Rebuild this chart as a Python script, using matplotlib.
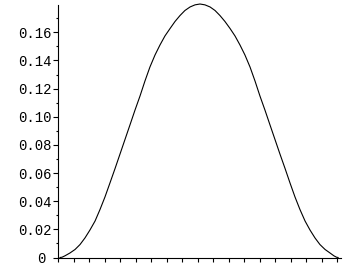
import matplotlib.pyplot as plt
from matplotlib.ticker import MultipleLocator
from matplotlib.transforms import ScaledTranslation

# points (x in tick units, one tick = 1)
xs = [0.13, 0.26, 0.45, 0.77, 1.10, 1.42, 1.74, 2.06, 2.39, 2.71, 3.03, 3.35,
      3.68, 4.00, 4.32, 4.64, 4.97, 5.29, 5.61, 5.93, 6.26, 6.58, 6.90, 7.23,
      7.55, 7.87, 8.19, 8.52, 8.84, 9.16,
      9.48, 9.81, 10.13, 10.45, 10.77, 11.10, 11.42, 11.74, 12.06, 12.39,
      12.71, 13.03, 13.35, 13.68, 14.00, 14.32, 14.65, 14.97, 15.29, 15.61,
      15.94, 16.26, 16.58, 16.90, 17.23, 17.55, 17.80, 17.97, 18.07]
ys = [0.0, 0.0002, 0.0012, 0.0032, 0.0057, 0.0092, 0.0139, 0.0195, 0.0259,
      0.0341, 0.0430, 0.0529, 0.0632, 0.0735, 0.0838, 0.0941, 0.1048, 0.1147,
      0.1254, 0.1353, 0.1439, 0.1510, 0.1574, 0.1627, 0.1677, 0.1719, 0.1755,
      0.1780, 0.1795, 0.1801,
      0.1795, 0.1780, 0.1755, 0.1719, 0.1677, 0.1627, 0.1574, 0.1510, 0.1439,
      0.1353, 0.1254, 0.1147, 0.1048, 0.0941, 0.0838, 0.0735, 0.0632, 0.0529,
      0.0430, 0.0341, 0.0259, 0.0195, 0.0139, 0.0092, 0.0057, 0.0032, 0.0012,
      0.0002, 0.0]

ytick_vals = [0, 0.02, 0.04, 0.06, 0.08, 0.10, 0.12, 0.14, 0.16]
ytick_labels = ['0', '0.02', '0.04', '0.06', '0.08', '0.10', '0.12', '0.14', '0.16']

fig = plt.figure(figsize=(3.55, 2.65), dpi=100)
W, H = 355, 265
ax = fig.add_axes([58 / W, (H - 257.5) / H, (341 - 58) / W, (257.5 - 5) / H])

ax.plot(xs, ys, color='black', linewidth=0.8, clip_on=False)

ax.set_xlim(0, (341 - 58) / 15.5)
ax.set_ylim(0, 252.5 / 1407.5)

for s in ['top', 'right']:
    ax.spines[s].set_visible(False)
for s in ['left', 'bottom']:
    ax.spines[s].set_linewidth(0.8)

ax.xaxis.set_major_locator(MultipleLocator(1))
ax.tick_params(axis='x', direction='out', length=3, width=0.8, labelbottom=False)

ax.set_yticks(ytick_vals)
ax.set_yticklabels(ytick_labels, family='Liberation Mono', fontsize=10)
ax.yaxis.set_minor_locator(MultipleLocator(0.01))
ax.tick_params(axis='y', which='major', direction='out', length=3.6, width=0.8, pad=0.7)
ax.tick_params(axis='y', which='minor', direction='out', length=1.5, width=0.8)

# Maple puts the "0" a bit further left
lbl0 = ax.get_yticklabels()[0]
lbl0.set_transform(lbl0.get_transform() + ScaledTranslation(-7 / 100, 0, fig.dpi_scale_trans))

fig.savefig('out.png', dpi=100)
